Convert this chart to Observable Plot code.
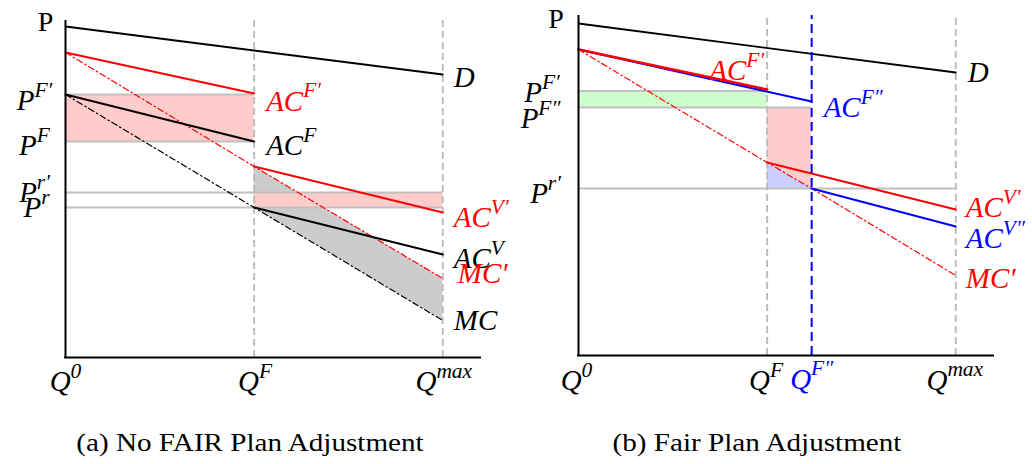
<!DOCTYPE html>
<html><head><meta charset="utf-8">
<script src="https://cdn.jsdelivr.net/npm/d3@7"></script>
<script src="https://cdn.jsdelivr.net/npm/@observablehq/plot@0.6"></script>
<style>
body{margin:0;background:#fff;}
#wrap{position:relative;width:1032px;height:464px;overflow:hidden;background:#fff;}
.panel{position:absolute;top:0;}
.cap{position:absolute;top:430px;font-family:"Liberation Serif","Times New Roman",Times,serif;font-size:26px;line-height:26px;white-space:nowrap;color:#000;transform:translateX(-50%) scaleX(1.12);}
</style></head>
<body>
<div id="wrap">
  <div class="panel" id="pa" style="left:0px"></div>
  <div class="panel" id="pb" style="left:510px"></div>
  <div class="cap" style="left:250px">(a) No FAIR Plan Adjustment</div>
  <div class="cap" style="left:757px">(b) Fair Plan Adjustment</div>
</div>
<script>
// ---------------- Panel (a): No FAIR Plan Adjustment ----------------
const aQ      = [0, 0.5, 1];                 // Q^0, Q^F, Q^max
const aQLabel = ["Q^0", "Q^F", "Q^max"];
const aQEnd   = 1.1;                         // end of quantity axis
const aPTop   = 337;                         // top of price axis
const aDemand = [[0, 331], [1, 283]];
const aACFp   = [[0, 305], [0.5, 264]];
const aACF    = [[0, 263], [0.5, 216]];
const aMCp    = [[0, 305], [0.5, 191], [1, 79]];
const aMC     = [[0, 263], [0.5, 150], [1, 37]];
const aACVp   = [[0.5, 191], [1, 145]];
const aACV    = [[0.5, 150], [1, 103]];
const aPLevel = [263, 216, 165, 150];        // P^F', P^F, P^r', P^r
const aPLabel = ["P^F′", "P^F", "P^r′", "P^r"];
const aCurveLabel = ["D", "AC^F′", "AC^F", "AC^V′", "AC^V", "MC′", "MC"];

// ---------------- Panel (b): Fair Plan Adjustment ----------------
const bQ      = [0, 0.5, 0.618, 1];          // Q^0, Q^F, Q^F'', Q^max
const bQLabel = ["Q^0", "Q^F", "Q^F″", "Q^max"];
const bQEnd   = 1.1;
const bPTop   = 340;
const bDemand = [[0, 332], [1, 283]];
const bACFp   = [[0, 306], [0.5, 266]];
const bACFpp  = [[0, 306], [0.618, 254]];
const bMCp    = [[0, 306], [0.5, 193], [0.618, 167], [1, 80]];
const bACVp   = [[0.5, 193], [1, 146]];
const bACVpp  = [[0.618, 167], [1, 129]];
const bPLevel = [264.5, 248, 167];           // P^F', P^F'', P^r'
const bPLabel = ["P^F′", "P^F″", "P^r′"];
const bCurveLabel = ["D", "AC^F′", "AC^F″", "AC^V′", "AC^V″", "MC′"];

// ---------------- styles ----------------
const RED = "#ff0000", BLUE = "#0000ff", BLACK = "#000000";
const PINK = "#ffcccc", GREEN = "#ccffcc", LAV = "#ccccff", GRAYFILL = "#cccccc";
const GRAYLINE = "#c0c0c0";
const FONT = "Liberation Serif, 'Times New Roman', Times, serif";
const DASHDOT = "6,3,1.5,3";

const X = d => d[0], Y = d => d[1];
const line = (data, stroke, extra = {}) =>
  Plot.line(data, {x: X, y: Y, stroke, strokeWidth: 2, ...extra});
const label = (x, y, text, o = {}) =>
  Plot.text([{x, y, text}], {
    x: "x", y: "y", text: "text",
    fontFamily: FONT, fontStyle: o.roman ? "normal" : "italic",
    fontSize: o.size || 29, fill: o.fill || BLACK,
    textAnchor: o.anchor || "start", dx: o.dx || 0, dy: o.dy || 0
  });

function supify(svg) {
  d3.select(svg).selectAll("text").each(function() {
    const s = this.textContent;
    if (!s.includes("^")) return;
    const [base, sup] = s.split("^");
    const t = d3.select(this);
    t.text(null);
    t.append("tspan").text(base);
    t.append("tspan").attr("font-size", "0.74em").attr("dy", "-0.62em").text(sup);
  });
  return svg;
}

// ---------------- Panel (a) ----------------
const aGray = aMC.slice(1).map((d, i) => ({q: d[0], lo: d[1], hi: aMCp[i + 1][1]}));
const plotA = Plot.plot({
  width: 510, height: 410,
  marginLeft: 65, marginRight: 30, marginTop: 20, marginBottom: 53,
  x: {domain: [0, aQEnd], axis: null},
  y: {domain: [0, aPTop], axis: null},
  style: {background: "transparent", overflow: "visible", fontFamily: FONT},
  marks: [
    Plot.areaY(aGray, {x: "q", y1: "lo", y2: "hi", fill: GRAYFILL}),
    Plot.rect([0], {x1: () => aQ[0], x2: () => aQ[1], y1: () => aPLevel[1], y2: () => aPLevel[0], fill: PINK}),
    Plot.rect([0], {x1: () => aQ[1], x2: () => aQ[2], y1: () => aPLevel[3], y2: () => aPLevel[2], fill: PINK}),
    Plot.ruleY(aPLevel.slice(0, 2), {x1: () => aQ[0], x2: () => aQ[1], stroke: GRAYLINE, strokeWidth: 2}),
    Plot.ruleY(aPLevel.slice(2), {x1: () => aQ[0], x2: () => aQ[2], stroke: GRAYLINE, strokeWidth: 2}),
    Plot.ruleX(aQ.slice(1), {y1: () => 0, y2: () => aPTop, stroke: "#bdbdbd", strokeWidth: 2, strokeDasharray: "7,4"}),
    line(aMC, BLACK, {strokeWidth: 1.2, strokeDasharray: DASHDOT}),
    line(aMCp, RED, {strokeWidth: 1.2, strokeDasharray: DASHDOT}),
    line(aDemand, BLACK, {strokeWidth: 1.8}),
    line(aACF, BLACK),
    line(aACFp, RED),
    line(aACV, BLACK),
    line(aACVp, RED),
    Plot.ruleX([0], {y1: () => 0, y2: () => aPTop, stroke: BLACK, strokeWidth: 2}),
    Plot.ruleY([0], {x1: () => 0, x2: () => aQEnd, stroke: BLACK, strokeWidth: 2, strokeLinecap: "square"}),
    // labels
    label(0, aPTop, "P", {roman: true, size: 28, anchor: "middle", dx: -20, dy: 1.4}),
    label(0, aPLevel[0], aPLabel[0], {anchor: "middle", dx: -31, dy: 6.7}),
    label(0, aPLevel[1], aPLabel[1], {anchor: "middle", dx: -31, dy: 4.7}),
    label(0, aPLevel[2], aPLabel[2], {anchor: "middle", dx: -31, dy: 0.7}),
    label(0, aPLevel[3], aPLabel[3], {anchor: "middle", dx: -29, dy: 0.7}),
    label(aDemand[1][0], aDemand[1][1], aCurveLabel[0], {dx: 11, dy: 3.7}),
    label(aACFp[1][0], aACFp[1][1], aCurveLabel[1], {dx: 12, dy: 8, fill: RED}),
    label(aACF[1][0], aACF[1][1], aCurveLabel[2], {dx: 12, dy: 4.7}),
    label(aACVp[1][0], aACVp[1][1], aCurveLabel[3], {dx: 11, dy: 5.7, fill: RED}),
    label(aACV[1][0], aACV[1][1], aCurveLabel[4], {dx: 11, dy: 4.7}),
    label(aMCp[2][0], aMCp[2][1], aCurveLabel[5], {dx: 15, dy: -4.3, fill: RED}),
    label(aMC[2][0], aMC[2][1], aCurveLabel[6], {dx: 11, dy: 0.7}),
    label(aQ[0], 0, aQLabel[0], {anchor: "middle", dx: 0, dy: 24.7}),
    label(aQ[1], 0, aQLabel[1], {anchor: "middle", dx: 1, dy: 24.7}),
    label(aQ[2], 0, aQLabel[2], {anchor: "middle", dx: 1, dy: 24.7})
  ]
});
document.getElementById("pa").appendChild(supify(plotA));

// ---------------- Panel (b) ----------------
const bPink = bMCp.slice(1, 3).map(d => ({q: d[0], lo: d[1], hi: bPLevel[1]}));
const bLav  = bMCp.slice(1, 3).map(d => ({q: d[0], lo: bPLevel[2], hi: d[1]}));
const plotB = Plot.plot({
  width: 522, height: 410,
  marginLeft: 68, marginRight: 39, marginTop: 15, marginBottom: 55,
  x: {domain: [0, bQEnd], axis: null},
  y: {domain: [0, bPTop], axis: null},
  style: {background: "transparent", overflow: "visible", fontFamily: FONT},
  marks: [
    Plot.rect([0], {x1: () => bQ[0], x2: () => bQ[1], y1: () => bPLevel[1], y2: () => bPLevel[0], fill: GREEN}),
    Plot.areaY(bPink, {x: "q", y1: "lo", y2: "hi", fill: PINK}),
    Plot.areaY(bLav, {x: "q", y1: "lo", y2: "hi", fill: LAV}),
    Plot.ruleY([bPLevel[0]], {x1: () => bQ[0], x2: () => bQ[1], stroke: GRAYLINE, strokeWidth: 2}),
    Plot.ruleY([bPLevel[1]], {x1: () => bQ[0], x2: () => bQ[2], stroke: GRAYLINE, strokeWidth: 2}),
    Plot.ruleY([bPLevel[2]], {x1: () => bQ[0], x2: () => bQ[3], stroke: GRAYLINE, strokeWidth: 2}),
    Plot.ruleX([bQ[1], bQ[3]], {y1: () => 0, y2: () => bPTop, stroke: "#bdbdbd", strokeWidth: 2, strokeDasharray: "7,4"}),
    line(bMCp, RED, {strokeWidth: 1.2, strokeDasharray: DASHDOT}),
    line(bDemand, BLACK, {strokeWidth: 1.8}),
    line(bACFpp, BLUE),
    line(bACFp, RED, {strokeWidth: 2.4}),
    line(bACVpp, BLUE),
    line(bACVp, RED),
    Plot.ruleX([bQ[2]], {y1: () => 0, y2: () => bPTop, stroke: BLUE, strokeWidth: 2, strokeDasharray: "9,5"}),
    Plot.ruleX([0], {y1: () => 0, y2: () => bPTop, stroke: BLACK, strokeWidth: 2}),
    Plot.ruleY([0], {x1: () => 0, x2: () => bQEnd, stroke: BLACK, strokeWidth: 2, strokeLinecap: "square"}),
    // labels
    label(0, bPTop, "P", {roman: true, size: 28, anchor: "middle", dx: -22.5, dy: 3.4}),
    label(0, bPLevel[0], bPLabel[0], {anchor: "middle", dx: -36.5, dy: 2.2}),
    label(0, bPLevel[1], bPLabel[1], {anchor: "middle", dx: -38, dy: 11.7}),
    label(0, bPLevel[2], bPLabel[2], {anchor: "middle", dx: -33, dy: 5.7}),
    label(bDemand[1][0], bDemand[1][1], bCurveLabel[0], {dx: 12, dy: 0.7}),
    label(bACFp[1][0], bACFp[1][1], bCurveLabel[1], {anchor: "end", dx: -3, dy: -18.3, fill: RED}),
    label(bACFpp[1][0], bACFpp[1][1], bCurveLabel[2], {dx: 12, dy: 6.7, fill: BLUE}),
    label(bACVp[1][0], bACVp[1][1], bCurveLabel[3], {dx: 10, dy: -1.3, fill: RED}),
    label(bACVpp[1][0], bACVpp[1][1], bCurveLabel[4], {dx: 10, dy: 12.7, fill: BLUE}),
    label(bMCp[3][0], bMCp[3][1], bCurveLabel[5], {dx: 10, dy: 3.7, fill: RED}),
    label(bQ[0], 0, bQLabel[0], {anchor: "middle", dx: -2, dy: 25.7}),
    label(bQ[1], 0, bQLabel[1], {anchor: "middle", dx: -1, dy: 25.7}),
    label(bQ[2], 0, bQLabel[2], {anchor: "middle", dx: 0, dy: 24, fill: BLUE}),
    label(bQ[3], 0, bQLabel[3], {anchor: "middle", dx: -1, dy: 25})
  ]
});
document.getElementById("pb").appendChild(supify(plotB));
</script>
</body></html>
